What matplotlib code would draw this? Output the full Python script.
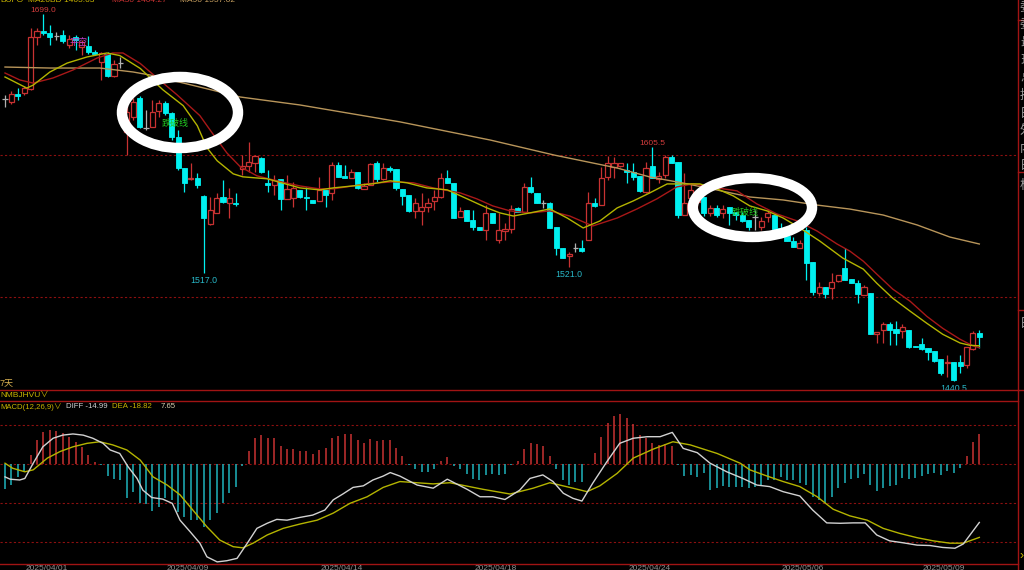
"""Candlestick chart with moving averages and a MACD panel."""

import matplotlib

matplotlib.use("Agg")
import matplotlib.pyplot as plt
from matplotlib.lines import Line2D
from matplotlib.patches import Ellipse, Rectangle

plt.rcParams["font.family"] = ["Liberation Sans", "Noto Sans CJK SC", "DejaVu Sans"]

# ---- candles (price) ----
opens = [
    1639.4, 1637.3, 1642.9, 1643.6, 1646.4, 1683.0, 1687.3, 1685.9, 1683.8, 1684.5,
    1677.4, 1683.0, 1676.0, 1676.7, 1672.5, 1665.4, 1671.1, 1655.6, 1664.7, 1616.1,
    1626.7, 1640.1, 1619.0, 1619.7, 1630.9, 1636.6, 1629.5, 1612.6, 1590.8, 1583.1,
    1583.8, 1571.1, 1551.4, 1559.1, 1570.4, 1566.2, 1566.2, 1590.1, 1592.2, 1594.3,
    1597.8, 1580.2, 1578.8, 1583.1, 1569.0, 1569.7, 1575.3, 1570.4, 1568.3, 1567.6,
    1575.3, 1573.2, 1592.9, 1585.2, 1583.8, 1588.0, 1576.0, 1578.8, 1594.3, 1583.1,
    1590.8, 1590.1, 1576.0, 1571.8, 1560.5, 1560.5, 1563.3, 1567.6, 1570.4, 1583.8,
    1580.2, 1556.3, 1561.2, 1554.2, 1549.2, 1547.1, 1559.1, 1540.1, 1546.4, 1547.8,
    1562.6, 1559.8, 1577.4, 1573.2, 1566.2, 1566.2, 1549.2, 1534.5, 1528.8, 1534.5,
    1534.5, 1540.1, 1566.2, 1564.7, 1584.5, 1591.5, 1592.2, 1589.4, 1588.0, 1585.2,
    1573.9, 1592.2, 1583.1, 1585.9, 1598.5, 1595.0, 1557.7, 1569.7, 1566.9, 1570.4,
    1559.1, 1562.6, 1559.1, 1563.3, 1559.8, 1557.7, 1554.2, 1556.3, 1549.2, 1556.3,
    1557.7, 1548.5, 1542.9, 1539.4, 1534.5, 1547.1, 1524.6, 1502.8, 1507.0, 1506.3,
    1511.2, 1520.4, 1512.6, 1509.8, 1501.4, 1502.8, 1473.9, 1476.7, 1480.9, 1477.4,
    1476.0, 1476.7, 1465.5, 1466.9, 1464.0, 1461.9, 1456.3, 1453.5, 1454.2, 1454.2,
    1452.1, 1463.3, 1474.6,
]
closes = [
    1639.4, 1642.9, 1641.5, 1647.1, 1683.0, 1687.3, 1685.9, 1683.0, 1683.8, 1680.2,
    1681.6, 1680.9, 1679.5, 1672.5, 1671.1, 1671.8, 1655.6, 1664.0, 1664.7, 1630.2,
    1637.3, 1619.7, 1619.0, 1630.2, 1636.6, 1629.5, 1612.6, 1590.8, 1580.2, 1583.8,
    1578.8, 1555.6, 1561.2, 1569.7, 1566.9, 1569.7, 1565.5, 1592.2, 1595.0, 1599.3,
    1588.0, 1578.8, 1582.3, 1569.0, 1576.0, 1576.7, 1570.4, 1569.7, 1566.2, 1575.3,
    1571.8, 1592.9, 1584.5, 1583.8, 1588.0, 1576.7, 1578.1, 1593.6, 1583.1, 1590.8,
    1589.4, 1576.7, 1571.1, 1560.5, 1566.2, 1563.3, 1566.2, 1570.4, 1583.8, 1580.2,
    1555.6, 1560.5, 1553.5, 1549.2, 1547.1, 1559.1, 1552.1, 1547.1, 1547.8, 1561.9,
    1559.8, 1577.4, 1573.9, 1566.2, 1566.2, 1548.5, 1534.5, 1527.4, 1530.2, 1534.5,
    1532.3, 1566.2, 1564.0, 1583.8, 1594.3, 1594.3, 1594.3, 1588.0, 1584.5, 1574.6,
    1590.8, 1583.8, 1585.2, 1598.5, 1594.3, 1557.7, 1566.2, 1575.3, 1569.7, 1559.1,
    1562.6, 1557.7, 1561.9, 1559.1, 1557.7, 1553.5, 1549.2, 1556.3, 1553.5, 1559.1,
    1547.8, 1547.1, 1539.4, 1535.2, 1538.0, 1523.9, 1503.5, 1507.0, 1502.1, 1510.5,
    1515.5, 1511.9, 1509.8, 1502.1, 1507.0, 1473.9, 1475.3, 1480.9, 1476.7, 1474.6,
    1478.8, 1464.7, 1464.7, 1463.3, 1461.2, 1454.9, 1446.4, 1454.2, 1441.5, 1451.4,
    1464.7, 1474.6, 1471.8,
]
highs = [
    1642.2, 1645.0, 1647.1, 1648.5, 1689.4, 1689.4, 1699.0, 1691.5, 1686.6, 1688.0,
    1684.5, 1684.5, 1680.9, 1683.8, 1673.9, 1672.5, 1672.5, 1666.8, 1669.0, 1635.2,
    1640.1, 1641.5, 1631.6, 1638.7, 1638.7, 1638.0, 1630.2, 1617.6, 1590.8, 1594.3,
    1587.3, 1571.8, 1570.4, 1573.2, 1582.3, 1576.7, 1573.2, 1600.0, 1609.1, 1600.0,
    1598.5, 1589.4, 1585.9, 1583.1, 1585.9, 1580.9, 1575.3, 1577.4, 1568.3, 1584.5,
    1575.3, 1595.0, 1595.0, 1592.9, 1590.1, 1588.0, 1580.2, 1594.3, 1595.7, 1594.3,
    1592.2, 1590.1, 1576.0, 1571.8, 1569.7, 1573.2, 1569.7, 1575.3, 1587.3, 1589.4,
    1580.2, 1563.3, 1561.2, 1561.2, 1549.2, 1564.7, 1559.1, 1559.1, 1552.1, 1564.7,
    1563.3, 1580.2, 1584.5, 1573.2, 1568.3, 1566.9, 1549.2, 1534.5, 1531.6, 1538.0,
    1540.1, 1573.9, 1569.7, 1591.5, 1599.3, 1598.5, 1594.3, 1594.3, 1594.3, 1585.2,
    1595.0, 1605.5, 1588.0, 1600.0, 1600.0, 1595.0, 1587.3, 1580.2, 1575.3, 1570.4,
    1564.7, 1564.7, 1564.7, 1563.3, 1559.8, 1559.8, 1554.2, 1561.2, 1556.3, 1561.2,
    1557.7, 1552.1, 1547.1, 1542.2, 1540.1, 1549.2, 1524.6, 1510.5, 1507.0, 1516.9,
    1515.5, 1534.5, 1512.6, 1511.9, 1508.4, 1502.8, 1475.3, 1482.4, 1482.4, 1483.1,
    1480.9, 1476.7, 1465.5, 1471.1, 1464.0, 1461.9, 1456.3, 1459.1, 1454.2, 1459.1,
    1464.7, 1476.0, 1476.7,
]
lows = [
    1633.7, 1635.9, 1638.7, 1642.2, 1645.7, 1677.4, 1684.5, 1677.4, 1680.9, 1678.8,
    1675.3, 1673.9, 1670.4, 1671.1, 1670.4, 1652.8, 1654.9, 1654.9, 1661.2, 1600.0,
    1624.6, 1619.0, 1617.6, 1619.7, 1626.7, 1628.1, 1610.5, 1589.4, 1573.9, 1582.3,
    1576.7, 1517.0, 1550.7, 1559.1, 1566.2, 1555.6, 1564.0, 1585.9, 1588.0, 1588.0,
    1587.3, 1573.9, 1571.8, 1561.2, 1569.0, 1563.3, 1569.7, 1561.2, 1566.2, 1567.6,
    1563.3, 1568.3, 1584.5, 1583.8, 1583.8, 1576.0, 1576.0, 1578.8, 1580.9, 1582.3,
    1588.0, 1575.3, 1564.7, 1559.8, 1555.6, 1550.7, 1559.8, 1561.2, 1569.7, 1580.2,
    1555.6, 1556.3, 1553.5, 1547.1, 1547.1, 1540.1, 1552.1, 1538.0, 1540.1, 1545.0,
    1559.8, 1559.8, 1573.2, 1566.2, 1562.6, 1548.5, 1529.5, 1527.4, 1521.0, 1531.6,
    1531.6, 1540.1, 1563.3, 1564.7, 1582.3, 1583.8, 1591.5, 1580.2, 1582.3, 1573.9,
    1573.2, 1583.8, 1580.2, 1583.8, 1594.3, 1555.6, 1557.7, 1564.7, 1561.2, 1557.0,
    1557.0, 1556.3, 1555.6, 1550.7, 1554.2, 1552.8, 1547.1, 1547.1, 1547.1, 1552.8,
    1547.1, 1545.0, 1539.4, 1535.2, 1534.5, 1511.9, 1501.4, 1500.7, 1499.3, 1498.6,
    1510.5, 1511.9, 1509.8, 1495.7, 1501.4, 1473.9, 1467.6, 1467.6, 1466.2, 1466.2,
    1471.1, 1464.0, 1464.7, 1462.6, 1455.6, 1454.2, 1445.0, 1443.6, 1440.5, 1446.4,
    1450.0, 1462.6, 1464.0,
]

# ---- moving averages, read at sample bar positions ----
ma_fast_x = [0, 3.4, 4.4, 7.0, 9.7, 12.8, 15.9, 17.9, 21.1, 24.6, 27.8, 30.0, 31.5,
             33.1, 35.6, 37.1, 40.9, 46.0, 49.1, 51.2, 54.3, 57.4, 60.1, 62.7, 65.8,
             69.0, 72.1, 75.2, 77.2, 79.3, 81.9, 85.0, 87.7, 90.2, 92.8, 95.5, 98.0,
             100.6, 103.3, 105.8, 108.4, 111.1, 113.6, 116.2, 118.9, 121.4, 124.0,
             127.1, 130.7, 133.9, 136.0, 138.5, 141.2, 143.8, 146.3, 149.0, 150.5, 152.0]
ma_fast = [1654.9, 1647.1, 1649.2, 1658.4, 1664.7, 1669.0, 1671.8, 1670.0, 1660.9,
           1646.0, 1634.7, 1620.6, 1605.1, 1595.9, 1586.7, 1584.6, 1583.2, 1576.8,
           1575.4, 1576.8, 1578.2, 1579.7, 1581.8, 1580.4, 1576.8, 1575.4, 1569.1,
           1562.7, 1559.2, 1557.0, 1559.2, 1562.0, 1555.6, 1548.6, 1553.5, 1562.7,
           1567.6, 1573.3, 1579.6, 1579.6, 1579.6, 1576.1, 1571.2, 1564.1, 1560.6,
           1555.6, 1548.6, 1539.4, 1527.4, 1519.6, 1509.7, 1499.1, 1490.0, 1481.5,
           1473.7, 1467.6, 1466.0, 1465.6]
ma_mid_x = [0, 2.3, 4.4, 7.5, 10.6, 14.4, 16.8, 18.4, 21.1, 24.2, 26.8, 30.4, 32.4,
            34.6, 36.7, 39.3, 42.4, 46.0, 49.1, 51.2, 56.5, 60.5, 63.7, 66.8, 71.0,
            73.6, 76.1, 78.8, 81.9, 85.0, 88.1, 91.7, 95.5, 98.6, 101.7, 104.8, 107.3,
            111.1, 114.2, 117.3, 120.4, 123.6, 126.7, 129.8, 131.8, 133.9, 136.0,
            138.5, 141.2, 143.8, 146.3, 149.0, 151.0, 152.0]
ma_mid = [1657.7, 1652.8, 1650.6, 1654.2, 1659.8, 1668.3, 1671.8, 1671.8, 1664.4,
          1652.4, 1642.5, 1627.7, 1615.0, 1601.5, 1591.7, 1585.3, 1581.8, 1578.2,
          1576.1, 1576.1, 1579.7, 1581.1, 1580.4, 1576.8, 1573.3, 1569.1, 1564.1,
          1560.6, 1559.2, 1560.6, 1557.0, 1550.0, 1555.6, 1562.0, 1569.1, 1577.5,
          1579.6, 1576.8, 1574.7, 1565.5, 1558.5, 1553.5, 1546.4, 1537.3, 1532.3,
          1525.2, 1516.1, 1505.5, 1497.0, 1486.4, 1477.9, 1470.2, 1465.6, 1464.3]
ma90_x = [0, 7.0, 14.8, 20.0, 22.6, 30.4, 36.7, 46.0, 61.6, 75.7, 85.8, 95.5, 100.6,
          105.8, 111.1, 116.2, 121.4, 126.7, 131.8, 137.0, 142.3, 147.4, 152.0]
ma90 = [1661.9, 1661.2, 1661.2, 1658.4, 1656.3, 1647.8, 1640.8, 1635.2, 1623.3,
        1610.5, 1599.8, 1590.8, 1584.5, 1580.2, 1575.3, 1570.4, 1568.3, 1564.7,
        1561.9, 1557.7, 1550.7, 1542.2, 1537.3]

# ---- MACD ----
macd_hist = [
    -6.4, -5.4, -3.3, -2.0, 2.3, 6.2, 8.3, 8.7, 8.5, 7.9,
    6.8, 5.7, 4.4, 2.3, 0.6, -0.3, -3.1, -3.8, -4.1, -8.8,
    -7.1, -10.1, -10.3, -12.1, -10.9, -8.8, -9.2, -12.2, -13.5, -14.4,
    -14.4, -16.1, -14.4, -12.6, -10.1, -7.5, -5.8, -0.5, 3.4, 6.6,
    7.4, 6.6, 6.6, 4.7, 3.8, 3.9, 3.3, 3.3, 2.6, 3.6,
    4.0, 6.6, 7.3, 7.6, 7.7, 6.2, 5.5, 6.4, 6.0, 6.2,
    6.2, 4.2, 2.1, -0.3, -1.3, -2.0, -2.0, -1.3, 0.8, 1.9,
    -0.4, -1.3, -2.6, -3.8, -4.1, -2.8, -2.6, -2.8, -2.6, -0.3,
    0.8, 3.8, 5.3, 5.1, 4.7, 2.1, -1.3, -4.1, -5.4, -4.5,
    -4.5, 0.0, 2.9, 7.0, 10.6, 12.3, 12.8, 11.7, 10.2, 7.4,
    6.6, 5.5, 4.9, 5.1, 4.6, -0.3, -3.0, -2.8, -3.3, -2.2,
    -6.7, -6.2, -5.6, -6.0, -6.0, -5.8, -6.2, -5.8, -5.4, -4.0,
    -4.1, -3.4, -4.0, -4.1, -4.8, -5.4, -8.4, -9.2, -10.1, -8.4,
    -6.2, -4.8, -3.8, -3.7, -2.6, -5.4, -6.8, -6.2, -5.6, -5.4,
    -3.7, -3.8, -3.7, -3.1, -2.6, -2.4, -2.8, -1.8, -2.2, -0.9,
    2.1, 5.6, 7.65,
]
diff_x = [0, 0.8, 2.3, 3.1, 4.4, 5.9, 7.5, 9.0, 10.6, 12.2, 13.7, 15.3, 16.4, 17.9,
          19.2, 20.6, 21.5, 22.9, 24.6, 26.1, 27.3, 28.9, 30.4, 31.5, 33.1, 34.6,
          36.2, 37.8, 39.3, 40.9, 42.4, 44.0, 46.0, 48.0, 49.9, 51.2, 52.7, 54.3,
          55.9, 57.4, 59.0, 60.1, 61.6, 64.3, 66.8, 69.0, 72.1, 74.1, 76.1, 78.0,
          80.3, 81.9, 83.9, 85.5, 87.1, 88.6, 90.0, 91.7, 93.9, 95.9, 98.0, 100.2,
          102.2, 104.1, 105.8, 108.0, 110.0, 112.6, 115.1, 117.3, 119.3, 121.4,
          124.0, 126.0, 128.2, 130.3, 132.3, 134.2, 136.0, 138.0, 140.1, 142.3,
          144.3, 146.3, 148.2, 149.5, 152.0]
diff = [-3.3, -3.9, -4.1, -3.7, 0.2, 4.4, 6.6, 7.4, 7.7, 7.4, 6.6, 5.3, 3.6, 2.7,
        -0.7, -3.7, -6.7, -8.6, -9.0, -10.1, -14.4, -17.4, -20.3, -23.8, -25.1,
        -24.8, -24.2, -20.3, -16.5, -15.2, -14.2, -14.4, -13.7, -13.1, -11.8, -9.2,
        -7.7, -6.0, -5.6, -4.1, -3.1, -2.2, -3.1, -5.4, -6.2, -3.9, -6.5, -8.4,
        -8.4, -9.1, -6.7, -3.7, -2.8, -4.5, -7.5, -8.8, -9.5, -4.9, 0.6, 5.3, 6.6,
        7.0, 7.0, 8.1, 4.0, 2.9, 0.2, -2.0, -3.7, -5.4, -5.8, -7.1, -8.2, -11.8,
        -15.1, -15.2, -15.1, -15.1, -18.2, -19.7, -20.2, -20.8, -20.9, -21.4,
        -21.6, -20.5, -14.99]
dea_x = [0, 1.2, 3.1, 4.4, 6.6, 8.6, 10.6, 12.8, 14.8, 16.8, 19.0, 21.1, 23.1, 25.3,
         27.3, 29.3, 31.5, 33.5, 35.6, 37.1, 38.7, 40.9, 43.4, 46.0, 48.7, 51.2,
         53.8, 56.5, 59.0, 61.6, 66.8, 69.4, 74.6, 78.8, 82.4, 85.0, 88.6, 90.8,
         92.8, 95.5, 98.0, 101.1, 104.2, 106.9, 111.1, 114.7, 116.2, 118.9, 121.4,
         124.0, 126.7, 129.2, 131.8, 134.5, 137.0, 139.6, 142.3, 144.8, 147.4,
         149.5, 152.0]
dea = [0.2, -1.1, -2.0, -1.5, 1.5, 3.2, 4.4, 5.3, 5.7, 4.9, 3.6, 1.0, -3.3, -5.4,
       -7.9, -11.8, -16.1, -19.5, -21.2, -21.5, -20.3, -18.2, -16.5, -15.4, -14.4,
       -12.6, -10.1, -8.4, -6.0, -4.5, -5.1, -4.8, -6.5, -7.7, -6.2, -4.8, -6.2,
       -7.1, -5.6, -2.4, 1.5, 3.8, 5.7, 4.9, 2.7, 0.2, -1.5, -3.1, -4.5, -5.8,
       -8.4, -11.6, -13.3, -14.4, -16.5, -17.8, -18.9, -19.7, -20.3, -20.3, -18.82]

# ---- labels ----
date_pos = [6.5, 28.5, 52.5, 76.5, 100.5, 124.5, 146.5]
date_labels = ["2025/04/01", "2025/04/09", "2025/04/14", "2025/04/18",
               "2025/04/24", "2025/05/06", "2025/05/09"]
high_marks = [(6, "1699.0"), (101, "1605.5")]
low_marks = [(31, "1517.0"), (88, "1521.0"), (148, "1440.5")]
side_chars = ["委", "委", "最", "现", "总", "持", "日", "外", "内", "日", "板"]

W, H = 1024, 570
BG = "black"
UP = "#c83232"
DOWN = "#00f0f0"
FLAT = "#b0b0b0"
GRID = "#8c1010"
FRAME = "#a01414"


def fx(px):
    return px / W


def fy(py):
    return 1 - py / H


def frame_line(fig, x0, y0, x1, y1, color=FRAME, ls="-", lw=1.0):
    fig.add_artist(Line2D([fx(x0), fx(x1)], [fy(y0), fy(y1)], color=color,
                          ls=ls, lw=lw, transform=fig.transFigure))


def draw_candles(ax, width=0.8):
    for i, (o, h, l, c) in enumerate(zip(opens, highs, lows, closes)):
        top, bot = max(o, c), min(o, c)
        if c > o:
            ax.vlines(i, top, h, color=UP, lw=0.9, zorder=2)
            ax.vlines(i, l, bot, color=UP, lw=0.9, zorder=2)
            ax.add_patch(Rectangle((i - width / 2, bot), width, top - bot,
                                   facecolor=BG, edgecolor=UP, lw=0.9, zorder=3))
        elif c < o:
            ax.vlines(i, l, h, color=DOWN, lw=0.9, zorder=2)
            ax.add_patch(Rectangle((i - width / 2, bot), width, top - bot,
                                   facecolor=DOWN, edgecolor=DOWN, lw=0.6, zorder=3))
        else:
            ax.vlines(i, l, h, color=FLAT, lw=0.9, zorder=2)
            ax.hlines(o, i - width / 2, i + width / 2, color=FLAT, lw=0.9, zorder=3)


fig = plt.figure(figsize=(W / 100, H / 100), dpi=100, facecolor=BG)
x_lim = ((0 - 5) / 6.41, (1018 - 5) / 6.41)

# main price panel
ax = fig.add_axes([0, fy(389), fx(1018), 389 / H])
ax.set_facecolor(BG)
ax.set_xlim(*x_lim)
ax.set_ylim(1435.2, 1709.1)
ax.axis("off")
for level in (1600, 1500):
    ax.axhline(level, color=GRID, ls=(0, (2, 2)), lw=0.8, zorder=1)
ax.plot(ma90_x, ma90, color="#b8955a", lw=1.0, zorder=4)
ax.plot(ma_mid_x, ma_mid, color="#a81818", lw=1.0, zorder=4)
ax.plot(ma_fast_x, ma_fast, color="#b4b400", lw=1.0, zorder=4)
draw_candles(ax)
for i, txt in high_marks:
    ax.annotate(txt, (i, highs[i]), xytext=(0, 0), textcoords="offset points",
                ha="center", va="bottom", fontsize=6, color="#d23c3c")
for i, txt in low_marks:
    ax.annotate(txt, (i, lows[i]), xytext=(0, -2), textcoords="offset points",
                ha="center", va="top", fontsize=6.3, color="#28b8c8")
ax.text(26.5, 1622.5, "跌破线", fontsize=6.5, color="#22c822", ha="center",
        va="center", zorder=5)
ax.text(115.5, 1559.8, "跌破线", fontsize=6.5, color="#22c822", ha="center",
        va="center", zorder=5)
ax.text(11.5, 1679.0, "平空", fontsize=6.5, color="#c040c8", ha="center",
        va="center", zorder=5)
# white hand-drawn style rings
ax.add_patch(Ellipse((27.3, 1629.9), 18.1, 50.0, fill=False, edgecolor="white",
                     lw=7.5, zorder=10))
ax.add_patch(Ellipse((116.6, 1563.0), 18.6, 41.5, fill=False, edgecolor="white",
                     lw=7.5, zorder=10))

# MACD panel
ax2 = fig.add_axes([0, fy(564), fx(1018), 163 / H])
ax2.set_facecolor(BG)
ax2.set_xlim(*x_lim)
ax2.set_ylim(-25.64, 16.15)
ax2.axis("off")
for level in (10, 0, -10, -20):
    ax2.axhline(level, color=GRID, ls=(0, (2, 2)), lw=0.8, zorder=1)
hist_colors = [UP if v > 0 else "#1fb4bc" for v in macd_hist]
ax2.vlines(range(len(macd_hist)), 0, macd_hist, colors=hist_colors, lw=1.1, zorder=2)
ax2.plot(dea_x, dea, color="#b4b400", lw=1.0, zorder=3)
ax2.plot(diff_x, diff, color="#d2d2d2", lw=1.0, zorder=4)

# frame lines
frame_line(fig, 1018, 0, 1018, H)
frame_line(fig, 0, 390, 1018, 390)
frame_line(fig, 0, 400.5, 1018, 400.5)
frame_line(fig, 0, 564, 1018, 564)
for y in (20, 172, 310, 390):
    frame_line(fig, 1018, y, W, y)

# header / panel texts (header row is clipped by the top edge, as in the source)
header = [(0, "BUFO", "#c8b400"), (28, "MA20BD 1465.63", "#c8b400"),
          (112, "MA30 1464.27", "#c83232"), (180, "MA90 1557.02", "#c8a060")]
for x, txt, col in header:
    fig.text(fx(x), fy(0.5), txt, color=col, fontsize=6, ha="left", va="center")
fig.text(fx(0), fy(384), "7天", color="#d8b050", fontsize=6.5, ha="left", va="center")
fig.text(fx(0), fy(395), "NMBJHVU∨", color="#c8b400", fontsize=6, ha="left",
         va="center")
macd_head = [(0, "MACD(12,26,9)∨", "#c8b400"), (66, "DIFF -14.99", "#d2d2d2"),
             (112, "DEA -18.82", "#c8b400"), (161, "7.65", "#d8d0b0")]
for x, txt, col in macd_head:
    fig.text(fx(x), fy(407), txt, color=col, fontsize=5.6, ha="left", va="center")
for p, lab in zip(date_pos, date_labels):
    fig.text(fx(5 + 6.41 * p), fy(565), lab, color="#909090", fontsize=6,
             ha="center", va="top")
for k, ch in enumerate(side_chars):
    yy = 8 + 17.6 * k if k < 10 else 186
    fig.text(fx(1020), fy(yy), ch, color="#a0a0a0", fontsize=9, ha="left",
             va="center")
fig.text(fx(1020), fy(324), "日", color="#a0a0a0", fontsize=9, ha="left", va="center")
fig.text(fx(1019), fy(556), "›", color="#c8b400", fontsize=9, ha="left", va="center")

fig.savefig("out.png", dpi=100, facecolor=BG)
plt.close()
